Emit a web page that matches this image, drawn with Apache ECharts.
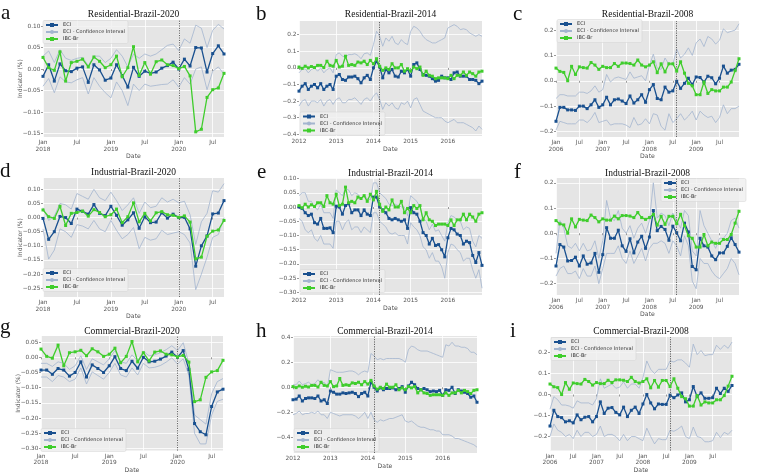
<!DOCTYPE html>
<html>
<head>
<meta charset="UTF-8">
<title>ECI vs IBC-Br</title>
<style>
  * { margin: 0; padding: 0; }
  body { background: #fff; }
  #charts { width: 762px; height: 474px; }
</style>
</head>
<body>
<div id="charts"></div>
<script src="https://cdn.jsdelivr.net/npm/echarts@6/dist/echarts.min.js"></script>
<script>
// tick labels of each period (month index -> label)
var ticks2020 = ['Jan\n2018', 'Jul', 'Jan\n2019', 'Jul', 'Jan\n2020', 'Jul'];
var ticks2014 = ['2012', '2013', '2014', '2015', '2016'];
var ticks2008 = ['Jan\n2006', 'Jul', 'Jan\n2007', 'Jul', 'Jan\n2008', 'Jul', 'Jan\n2009', 'Jul'];

// IBC-Br, shared by all panels of the same period
var ibc2020 = [0.027, 0.003, -0.003, 0.040, -0.028, 0.015, 0.018, 0.023, 0.005, 0.028, 0.018, 0.003,
  0.010, 0.030, -0.018, 0.003, 0.052, -0.015, 0.015, -0.012, 0.017, 0.021, 0.010, 0.008,
  0.001, 0.006, -0.016, -0.146, -0.140, -0.066, -0.048, -0.044, -0.010];
var ibc2014 = [0.005, -0.003, 0.010, 0.000, 0.008, 0.002, 0.015, 0.015, 0.002, 0.040, 0.015, 0.010,
  0.045, 0.005, 0.010, 0.070, 0.015, 0.020, 0.015, 0.035, 0.030, 0.040, 0.020, 0.045,
  0.025, 0.055, 0.010, -0.015, 0.000, -0.010, 0.025, 0.000, 0.000, 0.020, -0.020, -0.005,
  -0.020, 0.005, -0.005, 0.005, -0.045, -0.020, -0.045, -0.050, -0.065, -0.060, -0.060, -0.060,
  -0.065, -0.045, -0.065, -0.045, -0.045, -0.025, -0.045, -0.025, -0.035, -0.050, -0.025, -0.020];
var ibc2008 = [0.050, 0.037, 0.033, 0.000, 0.057, 0.025, 0.055, 0.052, 0.050, 0.072, 0.062, 0.045,
  0.057, 0.052, 0.052, 0.068, 0.057, 0.070, 0.070, 0.068, 0.062, 0.082, 0.062, 0.055,
  0.062, 0.075, 0.032, 0.067, 0.035, 0.067, 0.067, 0.038, 0.075, 0.030, -0.010, -0.020,
  -0.055, -0.055, -0.005, -0.050, -0.035, -0.040, -0.040, -0.025, -0.025, -0.005, 0.040, 0.087];

// Residential 2020
var eciRes20 = [-0.017, 0.010, -0.028, 0.012, -0.004, -0.006, 0.002, 0.005, -0.031, 0.010, -0.002, -0.026,
  -0.021, 0.010, -0.015, -0.042, 0.004, -0.017, -0.005, -0.010, -0.007, 0.002, 0.008, 0.016,
  0.000, 0.023, 0.007, 0.050, 0.049, -0.007, 0.036, 0.054, 0.035];
var ciHiRes20 = [0.030, 0.042, 0.015, 0.045, 0.025, 0.020, 0.025, 0.027, 0.008, 0.030, 0.030, 0.015,
  0.025, 0.045, 0.030, 0.005, 0.035, 0.025, 0.035, 0.030, 0.035, 0.045, 0.055, 0.058,
  0.043, 0.070, 0.060, 0.102, 0.095, 0.050, 0.090, 0.104, 0.093];
var ciLoRes20 = [-0.040, -0.022, -0.055, -0.018, -0.030, -0.032, -0.025, -0.020, -0.058, -0.020, -0.040, -0.055,
  -0.067, -0.030, -0.050, -0.085, -0.035, -0.050, -0.035, -0.040, -0.038, -0.036, -0.035, -0.025,
  -0.042, -0.020, -0.035, 0.000, 0.005, -0.048, -0.005, 0.005, -0.012];

// Industrial 2020
var eciInd20 = [-0.003, -0.077, -0.050, 0.004, 0.000, -0.021, 0.030, 0.022, 0.012, 0.046, 0.015, 0.007,
  0.040, 0.008, -0.027, -0.008, 0.017, -0.038, 0.003, -0.018, -0.016, 0.017, -0.002, 0.012,
  0.000, 0.001, -0.040, -0.172, -0.100, -0.065, 0.013, 0.016, 0.060];
var ciHiInd20 = [0.035, -0.010, 0.005, 0.050, 0.045, 0.030, 0.085, 0.075, 0.065, 0.100, 0.070, 0.060,
  0.090, 0.060, 0.025, 0.045, 0.070, 0.015, 0.055, 0.035, 0.040, 0.070, 0.055, 0.065,
  0.052, 0.058, 0.010, -0.095, -0.015, 0.015, 0.095, 0.090, 0.120];
var ciLoInd20 = [-0.040, -0.147, -0.115, -0.040, -0.050, -0.070, -0.025, -0.030, -0.040, -0.010, -0.040, -0.050,
  -0.010, -0.045, -0.075, -0.060, -0.035, -0.110, -0.070, -0.080, -0.075, -0.045, -0.060, -0.055,
  -0.050, -0.060, -0.090, -0.255, -0.200, -0.140, -0.070, -0.060, 0.000];

// Commercial 2020
var eciCom20 = [-0.042, -0.042, -0.056, -0.037, -0.042, -0.062, -0.050, -0.015, -0.065, -0.025, -0.037, -0.050,
  -0.028, 0.002, -0.037, -0.044, -0.013, -0.036, 0.000, -0.015, -0.013, -0.006, 0.004, 0.017,
  0.000, 0.022, -0.040, -0.218, -0.245, -0.255, -0.162, -0.114, -0.105];
var ciHiCom20 = [-0.020, -0.020, -0.030, -0.015, -0.020, -0.040, -0.028, 0.005, -0.040, -0.005, -0.015, -0.025,
  -0.005, 0.022, -0.015, -0.020, 0.008, -0.012, 0.020, 0.005, 0.008, 0.015, 0.025, 0.038,
  0.022, 0.048, -0.020, -0.190, -0.205, -0.220, -0.120, -0.080, -0.070];
var ciLoCom20 = [-0.065, -0.065, -0.080, -0.060, -0.065, -0.080, -0.072, -0.035, -0.088, -0.048, -0.060, -0.072,
  -0.050, -0.020, -0.058, -0.065, -0.035, -0.058, -0.020, -0.035, -0.033, -0.027, -0.016, -0.002,
  -0.022, -0.005, -0.060, -0.250, -0.285, -0.285, -0.190, -0.145, -0.138];

// Residential 2014
var eciRes14 = [-0.140, -0.110, -0.095, -0.130, -0.110, -0.100, -0.120, -0.095, -0.130, -0.110, -0.100, -0.130,
  -0.050, -0.040, -0.070, -0.075, -0.055, -0.055, -0.050, -0.065, -0.090, -0.060, -0.045, -0.070,
  0.000, 0.040, 0.005, -0.060, -0.010, -0.030, -0.010, -0.050, -0.055, -0.020, -0.030, -0.010,
  -0.050, 0.020, 0.030, -0.010, -0.040, -0.045, -0.050, -0.065, -0.080, -0.075, -0.050, -0.060,
  -0.060, -0.070, -0.030, -0.025, -0.050, -0.050, -0.050, -0.070, -0.070, -0.075, -0.095, -0.080];
var ciHiRes14 = [-0.030, -0.010, -0.005, -0.030, -0.010, 0.000, -0.020, 0.000, -0.030, -0.010, 0.000, -0.030,
  0.080, 0.090, 0.070, 0.065, 0.080, 0.080, 0.085, 0.075, 0.055, 0.085, 0.090, 0.075,
  0.140, 0.220, 0.190, 0.130, 0.180, 0.160, 0.190, 0.150, 0.140, 0.170, 0.150, 0.140,
  0.220, 0.250, 0.240, 0.220, 0.190, 0.170, 0.160, 0.150, 0.150, 0.160, 0.170, 0.180,
  0.240, 0.250, 0.260, 0.250, 0.230, 0.235, 0.230, 0.210, 0.200, 0.190, 0.200, 0.190];
var ciLoRes14 = [-0.230, -0.200, -0.190, -0.230, -0.200, -0.200, -0.210, -0.190, -0.230, -0.200, -0.190, -0.220,
  -0.190, -0.180, -0.210, -0.210, -0.190, -0.190, -0.180, -0.200, -0.220, -0.190, -0.180, -0.200,
  -0.170, -0.150, -0.190, -0.250, -0.210, -0.230, -0.210, -0.240, -0.250, -0.210, -0.220, -0.200,
  -0.240, -0.190, -0.180, -0.220, -0.260, -0.270, -0.280, -0.290, -0.300, -0.300, -0.300, -0.320,
  -0.330, -0.320, -0.310, -0.330, -0.330, -0.330, -0.340, -0.350, -0.360, -0.380, -0.350, -0.370];

// Industrial 2014
var eciInd14 = [0.000, -0.005, -0.020, -0.030, -0.025, -0.055, -0.060, -0.040, -0.075, -0.075, -0.073, -0.090,
  0.003, 0.000, -0.025, 0.005, 0.012, -0.020, -0.010, -0.010, -0.030, -0.010, -0.025, -0.030,
  0.035, 0.035, 0.000, -0.010, -0.020, -0.040, -0.045, -0.040, -0.045, -0.050, -0.045, -0.075,
  -0.002, -0.020, -0.025, -0.050, -0.090, -0.100, -0.130, -0.110, -0.135, -0.132, -0.150, -0.175,
  -0.108, -0.075, -0.080, -0.095, -0.100, -0.130, -0.120, -0.125, -0.170, -0.195, -0.160, -0.205];
var ciHiInd14 = [0.040, 0.050, 0.050, 0.020, 0.020, 0.000, -0.010, 0.010, -0.020, -0.020, -0.020, -0.040,
  0.060, 0.050, 0.040, 0.065, 0.060, 0.040, 0.050, 0.045, 0.030, 0.040, 0.030, 0.025,
  0.085, 0.085, 0.050, 0.040, 0.030, 0.010, 0.005, 0.010, 0.005, 0.000, 0.000, -0.030,
  0.040, 0.030, 0.020, 0.000, -0.040, -0.050, -0.080, -0.060, -0.085, -0.080, -0.100, -0.120,
  -0.055, -0.030, -0.035, -0.045, -0.050, -0.080, -0.070, -0.075, -0.120, -0.140, -0.100, -0.110];
var ciLoInd14 = [-0.040, -0.050, -0.080, -0.090, -0.080, -0.110, -0.120, -0.100, -0.130, -0.130, -0.130, -0.145,
  -0.050, -0.050, -0.080, -0.055, -0.045, -0.080, -0.070, -0.070, -0.090, -0.070, -0.080, -0.090,
  -0.020, -0.020, -0.050, -0.060, -0.070, -0.090, -0.095, -0.090, -0.100, -0.100, -0.100, -0.130,
  -0.055, -0.070, -0.080, -0.100, -0.140, -0.150, -0.180, -0.160, -0.190, -0.190, -0.210, -0.250,
  -0.160, -0.130, -0.135, -0.150, -0.160, -0.190, -0.180, -0.180, -0.220, -0.250, -0.220, -0.285];

// Commercial 2014
var eciCom14 = [-0.100, -0.095, -0.070, -0.110, -0.090, -0.085, -0.085, -0.090, -0.070, -0.110, -0.100, -0.130,
  -0.030, -0.040, -0.055, -0.055, -0.045, -0.050, -0.045, -0.040, -0.050, -0.075, -0.050, -0.040,
  -0.070, 0.040, 0.000, -0.030, -0.005, -0.020, -0.010, -0.010, -0.005, -0.020, -0.010, 0.005,
  -0.040, 0.010, 0.040, 0.020, -0.010, -0.020, -0.010, -0.020, -0.035, -0.030, -0.035, -0.025,
  -0.065, -0.020, -0.025, 0.000, -0.050, -0.020, -0.030, -0.040, -0.050, -0.080, -0.070, -0.120];
var ciHiCom14 = [0.020, 0.020, 0.050, 0.020, 0.030, 0.040, 0.020, 0.030, 0.060, 0.030, 0.040, 0.000,
  0.140, 0.130, 0.120, 0.120, 0.120, 0.125, 0.130, 0.130, 0.120, 0.100, 0.120, 0.130,
  0.120, 0.270, 0.250, 0.220, 0.230, 0.220, 0.230, 0.230, 0.230, 0.230, 0.230, 0.220,
  0.200, 0.300, 0.330, 0.320, 0.300, 0.290, 0.290, 0.290, 0.280, 0.270, 0.260, 0.250,
  0.240, 0.340, 0.330, 0.360, 0.330, 0.330, 0.320, 0.320, 0.310, 0.280, 0.280, 0.260];
var ciLoCom14 = [-0.220, -0.210, -0.190, -0.220, -0.210, -0.210, -0.200, -0.210, -0.190, -0.220, -0.220, -0.250,
  -0.200, -0.210, -0.220, -0.230, -0.220, -0.220, -0.220, -0.220, -0.230, -0.250, -0.230, -0.200,
  -0.250, -0.200, -0.260, -0.280, -0.260, -0.270, -0.260, -0.250, -0.250, -0.240, -0.230, -0.220,
  -0.270, -0.280, -0.270, -0.290, -0.310, -0.320, -0.320, -0.330, -0.340, -0.340, -0.350, -0.350,
  -0.380, -0.380, -0.380, -0.390, -0.410, -0.410, -0.420, -0.430, -0.440, -0.450, -0.460, -0.480];

// Residential 2008
var eciRes08 = [-0.160, -0.105, -0.105, -0.115, -0.115, -0.117, -0.100, -0.100, -0.110, -0.095, -0.075, -0.105,
  -0.095, -0.065, -0.095, -0.075, -0.072, -0.080, -0.090, -0.060, -0.088, -0.075, -0.055, -0.085,
  -0.035, -0.015, -0.070, -0.075, -0.025, -0.045, -0.040, -0.002, -0.030, -0.010, 0.010, -0.015,
  0.015, 0.013, -0.005, 0.018, 0.012, -0.012, 0.010, 0.058, 0.030, 0.042, 0.045, 0.065];
var ciHiRes08 = [-0.070, -0.055, -0.055, -0.060, -0.060, -0.060, -0.045, -0.045, -0.050, -0.040, -0.020, -0.045,
  -0.035, 0.025, -0.005, 0.010, 0.015, 0.010, 0.005, 0.035, 0.010, 0.015, 0.020, 0.000,
  0.060, 0.105, 0.050, 0.045, 0.090, 0.065, 0.065, 0.125, 0.090, 0.105, 0.130, 0.100,
  0.150, 0.165, 0.135, 0.175, 0.165, 0.145, 0.160, 0.205, 0.190, 0.195, 0.200, 0.225];
var ciLoRes08 = [-0.195, -0.160, -0.165, -0.170, -0.170, -0.170, -0.155, -0.155, -0.165, -0.150, -0.125, -0.165,
  -0.160, -0.155, -0.175, -0.170, -0.170, -0.170, -0.175, -0.185, -0.145, -0.175, -0.170, -0.150,
  -0.170, -0.130, -0.135, -0.180, -0.195, -0.130, -0.165, -0.150, -0.130, -0.155, -0.140, -0.120,
  -0.155, -0.120, -0.135, -0.145, -0.140, -0.165, -0.145, -0.095, -0.130, -0.110, -0.110, -0.100];

// Industrial 2008
var eciInd08 = [-0.130, -0.045, -0.055, -0.110, -0.108, -0.095, -0.130, -0.090, -0.123, -0.118, -0.080, -0.155,
  -0.085, 0.022, -0.020, -0.020, 0.012, -0.050, -0.072, -0.022, -0.078, -0.035, -0.012, -0.060,
  -0.015, 0.090, 0.010, 0.027, 0.015, -0.028, 0.028, 0.002, -0.030, 0.040, 0.005, -0.132,
  -0.145, -0.020, -0.050, -0.055, -0.090, -0.105, -0.078, -0.078, -0.052, -0.018, -0.045, -0.075];
var ciHiInd08 = [-0.080, 0.050, 0.020, -0.050, -0.060, -0.040, -0.070, -0.040, -0.070, -0.065, -0.030, -0.100,
  -0.030, 0.130, 0.060, 0.050, 0.090, 0.020, 0.000, 0.030, -0.020, 0.020, 0.040, 0.000,
  0.050, 0.200, 0.060, 0.080, 0.070, 0.030, 0.080, 0.050, 0.020, 0.090, 0.070, -0.070,
  -0.090, 0.090, 0.030, 0.000, -0.030, -0.060, -0.020, -0.020, 0.000, 0.050, 0.060, 0.020];
var ciLoInd08 = [-0.170, -0.140, -0.130, -0.160, -0.160, -0.150, -0.180, -0.140, -0.170, -0.170, -0.130, -0.200,
  -0.140, -0.080, -0.080, -0.080, -0.050, -0.100, -0.120, -0.070, -0.120, -0.090, -0.060, -0.110,
  -0.060, -0.040, -0.040, -0.030, -0.040, -0.080, -0.030, -0.050, -0.090, -0.010, -0.050, -0.190,
  -0.220, -0.100, -0.120, -0.120, -0.150, -0.170, -0.180, -0.160, -0.140, -0.100, -0.120, -0.165];

// Commercial 2008
var eciCom08 = [-0.150, -0.075, -0.105, -0.110, -0.130, -0.125, -0.135, -0.097, -0.120, -0.108, -0.105, -0.130,
  -0.105, -0.035, -0.090, -0.065, -0.062, -0.085, -0.097, -0.060, -0.105, -0.075, -0.060, -0.090,
  -0.045, 0.000, -0.040, -0.068, -0.045, -0.047, -0.047, -0.003, -0.015, -0.002, 0.008, -0.035,
  -0.025, 0.038, -0.010, 0.008, -0.018, -0.018, -0.015, 0.030, 0.005, 0.030, 0.015, 0.043];
var ciHiCom08 = [-0.070, -0.010, -0.025, -0.050, -0.050, -0.055, -0.065, -0.030, -0.040, -0.040, -0.040, -0.050,
  -0.020, 0.075, 0.030, 0.040, 0.050, 0.030, 0.035, 0.060, 0.030, 0.050, 0.050, 0.030,
  0.080, 0.160, 0.120, 0.100, 0.120, 0.120, 0.120, 0.160, 0.155, 0.165, 0.165, 0.150,
  0.130, 0.240, 0.190, 0.210, 0.185, 0.190, 0.190, 0.235, 0.215, 0.235, 0.220, 0.250];
var ciLoCom08 = [-0.200, -0.140, -0.170, -0.180, -0.200, -0.190, -0.210, -0.170, -0.200, -0.180, -0.180, -0.200,
  -0.190, -0.150, -0.200, -0.190, -0.190, -0.200, -0.220, -0.190, -0.220, -0.200, -0.200, -0.210,
  -0.220, -0.160, -0.200, -0.235, -0.210, -0.215, -0.215, -0.170, -0.175, -0.165, -0.150, -0.200,
  -0.210, -0.155, -0.200, -0.205, -0.225, -0.225, -0.220, -0.180, -0.205, -0.180, -0.190, -0.170];

// y tick values of each panel
var yTicksA = [-0.15, -0.10, -0.05, 0, 0.05, 0.10];
var yTicksB = [-0.4, -0.3, -0.2, -0.1, 0, 0.1, 0.2];
var yTicksC = [-0.2, -0.1, 0, 0.1, 0.2];
var yTicksD = [-0.25, -0.20, -0.15, -0.10, -0.05, 0, 0.05, 0.10];
var yTicksE = [-0.30, -0.25, -0.20, -0.15, -0.10, -0.05, 0, 0.05, 0.10];
var yTicksG = [-0.30, -0.25, -0.20, -0.15, -0.10, -0.05, 0, 0.05];
var yTicksH = [-0.4, -0.2, 0, 0.2, 0.4];

// period settings: tick step in months, labels, index of the dotted line
var periods = {
  '2020': { step: 6, labels: ticks2020, cut: 24 },
  '2014': { step: 12, labels: ticks2014, cut: 26 },
  '2008': { step: 6, labels: ticks2008, cut: 31 }
};

var panels = [
  { letter: 'a', title: 'Residential-Brazil-2020', period: '2020', eci: eciRes20, hi: ciHiRes20, lo: ciLoRes20, ibc: ibc2020,
    box: [43, 20, 181, 117], y: [-0.158, 0.114], yt: yTicksA, dec: 2, leg: [43, 20.5], gap: 12, yName: true, ty: 14, lp: [1, 13] },
  { letter: 'b', title: 'Residential-Brazil-2014', period: '2014', eci: eciRes14, hi: ciHiRes14, lo: ciLoRes14, ibc: ibc2014,
    box: [299, 21, 183, 115], y: [-0.41, 0.282], yt: yTicksB, dec: 1, leg: [300, 112], gap: 7.5, ty: 14.5, lp: [256, 14] },
  { letter: 'c', title: 'Residential-Brazil-2008', period: '2008', eci: eciRes08, hi: ciHiRes08, lo: ciLoRes08, ibc: ibc2008,
    box: [556, 21, 183, 116], y: [-0.222, 0.236], yt: yTicksC, dec: 1, leg: [557, 19.5], gap: 12, ty: 14.5, lp: [513, 14] },
  { letter: 'd', title: 'Industrial-Brazil-2020', period: '2020', eci: eciInd20, hi: ciHiInd20, lo: ciLoInd20, ibc: ibc2020,
    box: [43, 178, 181, 119], y: [-0.281, 0.14], yt: yTicksD, dec: 2, leg: [43, 268.5], gap: 10.5, yName: true, ty: 172.5, lp: [0, 171] },
  { letter: 'e', title: 'Industrial-Brazil-2014', period: '2014', eci: eciInd14, hi: ciHiInd14, lo: ciLoInd14, ibc: ibc2014,
    box: [299, 178, 183, 117], y: [-0.309, 0.102], yt: yTicksE, dec: 2, leg: [300, 269.5], gap: 7.5, ty: 173, lp: [257, 172] },
  { letter: 'f', title: 'Industrial-Brazil-2008', period: '2008', eci: eciInd08, hi: ciHiInd08, lo: ciLoInd08, ibc: ibc2008,
    box: [556, 178, 183, 117], y: [-0.245, 0.219], yt: yTicksC, dec: 1, leg: [661, 178.5], gap: 12, ty: 173, lp: [514, 172] },
  { letter: 'g', title: 'Commercial-Brazil-2020', period: '2020', eci: eciCom20, hi: ciHiCom20, lo: ciLoCom20, ibc: ibc2020,
    box: [41, 336, 182, 119], y: [-0.307, 0.07], yt: yTicksG, dec: 2, leg: [41, 428.5], gap: 11.5, yName: true, ty: 331, lp: [0, 327] },
  { letter: 'h', title: 'Commercial-Brazil-2014', period: '2014', eci: eciCom14, hi: ciHiCom14, lo: ciLoCom14, ibc: ibc2014,
    box: [293, 336, 184, 117], y: [-0.526, 0.41], yt: yTicksH, dec: 1, leg: [294, 428.5], gap: 7.5, ty: 331, lp: [256, 331] },
  { letter: 'i', title: 'Commercial-Brazil-2008', period: '2008', eci: eciCom08, hi: ciHiCom08, lo: ciLoCom08, ibc: ibc2008,
    box: [550, 337, 182, 119], y: [-0.267, 0.274], yt: yTicksC, dec: 1, leg: [551, 337.5], gap: 10.5, ty: 331, lp: [510, 331] }
];

var blue = '#19508f', ciColor = '#a3b5cf', green = '#3fcd2c';
var sans = 'DejaVu Sans', serif = 'Liberation Serif';

function pairs(arr) {
  return arr.map(function (v, i) { return [i, v]; });
}
function yFmt(dec) {
  return function (v) { return (v < 0 ? '\u2212' : '') + Math.abs(v).toFixed(dec); };
}

var grids = [], xAxes = [], yAxes = [], series = [], legends = [], graphics = [];

panels.forEach(function (p, k) {
  var per = periods[p.period];
  var n = p.eci.length;
  var xt = [];
  for (var t = 0; t < n; t += per.step) xt.push(t);

  grids.push({ left: p.box[0], top: p.box[1], width: p.box[2], height: p.box[3],
    show: true, backgroundColor: '#e5e5e5', borderWidth: 0 });

  xAxes.push({
    type: 'value', gridIndex: k, min: 0, max: n - 1, interval: per.step,
    axisLine: { show: false },
    axisTick: { show: true, length: 2, lineStyle: { color: '#555', width: 0.6 }, customValues: xt },
    axisLabel: { fontSize: 5.8, fontFamily: sans, color: '#555', margin: 2.5, lineHeight: 6.5,
      customValues: xt,
      formatter: function (v) { return per.labels[Math.round(v / per.step)] || ''; } },
    splitLine: { show: true, lineStyle: { color: '#fff', width: 0.8 } },
    name: 'Date', nameLocation: 'middle', nameGap: p.gap,
    nameTextStyle: { fontSize: 6.2, fontFamily: sans, color: '#555' }
  });

  yAxes.push({
    type: 'value', gridIndex: k, min: p.y[0], max: p.y[1],
    axisLine: { show: false },
    axisTick: { show: true, length: 2, lineStyle: { color: '#555', width: 0.6 }, customValues: p.yt },
    axisLabel: { fontSize: 5.8, fontFamily: sans, color: '#555', margin: 2.5, customValues: p.yt, formatter: yFmt(p.dec) },
    splitLine: { show: true, lineStyle: { color: '#fff', width: 0.8 } },
    name: p.yName ? 'Indicator (%)' : '', nameLocation: 'middle', nameGap: 20, nameMoveOverlap: false,
    nameTextStyle: { fontSize: 6, fontFamily: sans, color: '#555' }
  });

  series.push({
    name: 'ECI', type: 'line', xAxisIndex: k, yAxisIndex: k, data: pairs(p.eci),
    symbol: 'rect', symbolSize: 3, showSymbol: true, z: 4,
    lineStyle: { color: blue, width: 1.3 }, itemStyle: { color: blue },
    markLine: { silent: true, symbol: 'none', label: { show: false },
      lineStyle: { color: '#555', type: [1.2, 1.2], width: 0.9 },
      data: [{ xAxis: per.cut }] }
  });
  series.push({
    name: 'ECI - Confidence Interval', type: 'line', xAxisIndex: k, yAxisIndex: k, data: pairs(p.hi),
    symbol: 'none', z: 2, lineStyle: { color: ciColor, width: 0.8 }, itemStyle: { color: ciColor }
  });
  series.push({
    name: 'ECI - Confidence Interval', type: 'line', xAxisIndex: k, yAxisIndex: k, data: pairs(p.lo),
    symbol: 'none', z: 2, lineStyle: { color: ciColor, width: 0.8 }, itemStyle: { color: ciColor }
  });
  series.push({
    name: 'IBC-Br', type: 'line', xAxisIndex: k, yAxisIndex: k, data: pairs(p.ibc),
    symbol: 'rect', symbolSize: 3, showSymbol: true, z: 5,
    lineStyle: { color: green, width: 1.3 }, itemStyle: { color: green }
  });

  legends.push({
    left: p.leg[0], top: p.leg[1], orient: 'vertical', selectedMode: false,
    data: ['ECI', 'ECI - Confidence Interval', 'IBC-Br'],
    itemWidth: 12, itemHeight: 5, itemGap: 2,
    textStyle: { fontSize: 5, fontFamily: sans, color: '#333' },
    padding: [2, 3, 2, 2], backgroundColor: 'rgba(240,240,240,0.85)',
    borderColor: '#d2d2d2', borderWidth: 0.5, borderRadius: 1.5
  });

  graphics.push({ type: 'text', x: p.box[0] + p.box[2] / 2, y: p.ty,
    style: { text: p.title, fontSize: 9.5, fontFamily: serif, fill: '#111', align: 'center', verticalAlign: 'middle' } });
  graphics.push({ type: 'text', x: p.lp[0], y: p.lp[1],
    style: { text: p.letter, fontSize: 21, fontFamily: serif, fill: '#111', align: 'left', verticalAlign: 'middle' } });
});

var mycharts = echarts.init(document.getElementById('charts'));
mycharts.setOption({
  animation: false,
  grid: grids,
  xAxis: xAxes,
  yAxis: yAxes,
  legend: legends,
  series: series,
  graphic: graphics
});
</script>
</body>
</html>
